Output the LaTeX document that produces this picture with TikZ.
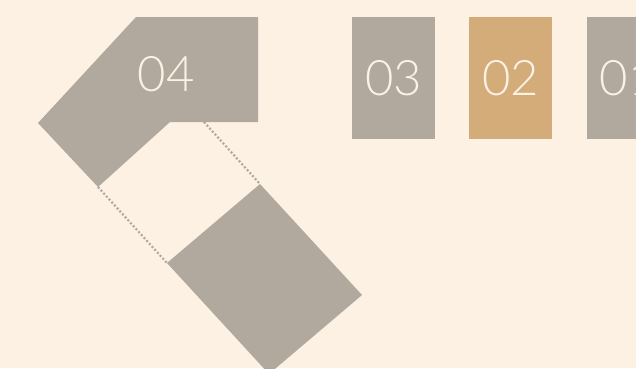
\documentclass[tikz,border=0pt]{standalone}
\usepackage{fontspec}
\newfontfamily\tilefont{Lato}[UprightFont={* Light}]
\usepackage{tikz}
\usetikzlibrary{positioning}
\usepackage{xcolor}
\definecolor{paper}{HTML}{FDF1E4}
\definecolor{stone}{HTML}{B1A99E}
\definecolor{sand}{HTML}{D4AC7A}

\begin{document}
\begin{tikzpicture}[
    x=1pt, y=-1pt,
    node distance=34pt,
    digits/.style={text=paper, inner sep=0pt, font=\tilefont\fontsize{49}{49}\selectfont},
    tile/.style={digits, fill=stone, minimum width=83pt, minimum height=122pt},
    trail/.style={stone, line width=2.2pt, dash pattern=on 2pt off 2pt}
]
\fill[paper] (0,0) rectangle (636,368);
\clip (0,0) rectangle (636,368);

\node[tile] (t3) at (393.5,78) {03};
\node[tile, fill=sand, right=of t3] (t2) {02};
\node[tile, right=of t2] (t1) {01};

% tile 04, half turned
\coordinate (c1) at (136,17);
\coordinate (c2) at (258,17);
\coordinate (c3) at (258,122);
\coordinate (c4) at (170,122);
\coordinate (c5) at (98,187);
\coordinate (c6) at (38,123);
\coordinate (c7) at (204,122);
\fill[stone] (c1) -- (c2) -- (c3) -- (c4) -- (c5) -- (c6) -- cycle;
\node[digits] (t4) at (166,74) {04};

% the turned tile further down
\coordinate (r1) at (260,184);
\coordinate (r2) at (362,295);
\coordinate (r3) at (269,374);
\coordinate (r4) at (167,263);
\fill[stone] (r1) -- (r2) -- (r3) -- (r4) -- cycle;

\draw[trail] (c7) -- (r1);
\draw[trail] (c5) -- (r4);
\end{tikzpicture}
\end{document}
